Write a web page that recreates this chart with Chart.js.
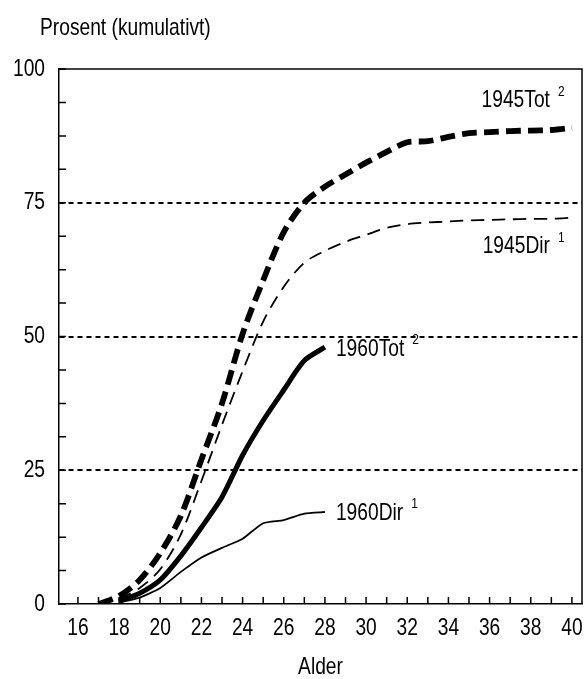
<!DOCTYPE html>
<html>
<head>
<meta charset="utf-8">
<script src="https://cdn.jsdelivr.net/npm/chart.js@4.4.1/dist/chart.umd.min.js"></script>
<style>
  html, body { margin: 0; padding: 0; background: #fff; }
  #wrap { width: 587px; height: 679px; position: relative; }
</style>
</head>
<body>
<div id="wrap"><canvas id="chart"></canvas></div>
<script>
/* ─── Data ─────────────────────────────────────── */
const ages1945 = [17, 18, 19, 20, 21, 22, 23, 24, 25, 26, 27, 28, 29, 30, 31, 32, 33, 34, 35, 36, 37, 38, 39, 40];
const tot1945  = [0, 1.5, 4.5, 9.5, 16.5, 27, 37.5, 50.5, 60.5, 69.5, 75, 78, 80.3, 82.5, 84.5, 86.3, 86.5, 87.3, 88, 88.2, 88.4, 88.5, 88.6, 89];
const dir1945  = [0, 1, 3, 6.5, 13, 23, 33.5, 43.5, 52.8, 59.3, 63.8, 66, 67.7, 69, 70.3, 71, 71.3, 71.5, 71.7, 71.8, 71.9, 72, 72, 72.2];

const ages1960 = [18, 19, 20, 21, 22, 23, 24, 25, 26, 27, 28];
const tot1960  = [0.5, 2, 4.5, 9, 14.3, 20, 27.8, 34.3, 40, 45.5, 48];
const dir1960  = [0.3, 1.2, 3, 6, 8.7, 10.5, 12.2, 15.1, 15.7, 16.9, 17.2];

const xTickLabels = [16, 18, 20, 22, 24, 26, 28, 30, 32, 34, 36, 38, 40];
const yTickLabels = [0, 25, 50, 75, 100];
const yGridLines  = [25, 50, 75];

const seriesNames = ['1945Tot', '1945Dir', '1960Tot', '1960Dir'];
const seriesNotes = ['2', '1', '2', '1'];

const yTitle = 'Prosent (kumulativt)';
const xTitle = 'Alder';

const FONT = "'Liberation Sans Narrow', 'Liberation Sans', Arial, sans-serif";
const SQUEEZE = 0.8;   // no narrow font installed: condense by hand

const pts = (xs, ys) => xs.map((x, i) => ({ x, y: ys[i] }));

/* condensed text helper */
function narrowText(ctx, text, x, y, size, align) {
  ctx.save();
  ctx.font = size + 'px ' + FONT;
  ctx.translate(x, y);
  ctx.scale(SQUEEZE, 1);
  ctx.textAlign = align;
  ctx.textBaseline = 'middle';
  ctx.fillText(text, 0, 0);
  ctx.restore();
}

function narrowWidth(ctx, text, size) {
  ctx.save();
  ctx.font = size + 'px ' + FONT;
  const w = ctx.measureText(text).width * SQUEEZE;
  ctx.restore();
  return w;
}

/* ─── Extra drawing: frame, inner ticks, texts ─── */
const decorations = {
  id: 'decorations',
  afterDraw(chart) {
    const { ctx, chartArea: a, scales: { x, y } } = chart;
    ctx.save();
    ctx.strokeStyle = '#000';
    ctx.fillStyle = '#000';
    ctx.lineWidth = 1.5;

    // top and right frame
    ctx.beginPath();
    ctx.moveTo(a.left, a.top);
    ctx.lineTo(a.right, a.top);
    ctx.lineTo(a.right, a.bottom);
    ctx.stroke();

    // inner tick marks
    ctx.beginPath();
    for (let v = 16; v <= 40; v++) {
      const px = x.getPixelForValue(v);
      ctx.moveTo(px, a.bottom);
      ctx.lineTo(px, a.bottom - 7);
    }
    y.ticks.forEach(t => {
      const py = y.getPixelForValue(t.value);
      ctx.moveTo(a.left, py);
      ctx.lineTo(a.left + 7, py);
    });
    ctx.stroke();

    // tick labels
    xTickLabels.forEach(v => narrowText(ctx, String(v), x.getPixelForValue(v), 628, 24, 'center'));
    yTickLabels.forEach(v => narrowText(ctx, String(v), 45, y.getPixelForValue(v), 24, 'right'));

    // axis titles
    narrowText(ctx, yTitle, 40, 28, 24, 'left');
    narrowText(ctx, xTitle, (a.left + a.right) / 2, 667, 24, 'center');

    // series labels next to their end points
    const label = (i, ax, ay, align) => {
      const ds = chart.data.datasets[i].data;
      const end = ds[ds.length - 1];
      const px = x.getPixelForValue(end.x) + ax;
      const py = y.getPixelForValue(end.y) + ay;
      const w = narrowWidth(ctx, seriesNames[i], 24);
      const left = align === 'right' ? px - w : px;
      narrowText(ctx, seriesNames[i], left, py, 24, 'left');
      narrowText(ctx, seriesNotes[i], left + w + 8, py - 9, 15, 'left');
    };
    label(0, -22, -27, 'right');
    label(1, -22, 29, 'right');
    label(2, 11, 2, 'left');
    label(3, 11, 1, 'left');

    ctx.restore();
  }
};

/* ─── Chart ────────────────────────────────────── */
new Chart(document.getElementById('chart'), {
  type: 'line',
  data: {
    datasets: [
      {
        label: seriesNames[0],
        data: pts(ages1945, tot1945),
        borderColor: '#000',
        borderWidth: 5.8,
        borderDash: [15, 7],
        tension: 0.3,
      },
      {
        label: seriesNames[1],
        data: pts(ages1945, dir1945),
        borderColor: '#000',
        borderWidth: 1.8,
        borderDash: [13, 8],
        tension: 0.3,
      },
      {
        label: seriesNames[2],
        data: pts(ages1960, tot1960),
        borderColor: '#000',
        borderWidth: 5,
        tension: 0.25,
      },
      {
        label: seriesNames[3],
        data: pts(ages1960, dir1960),
        borderColor: '#000',
        borderWidth: 1.8,
        tension: 0.2,
      }
    ]
  },
  options: {
    responsive: true,
    maintainAspectRatio: false,
    animation: false,
    layout: { padding: { top: 69, right: 5, left: 0, bottom: 0 } },
    elements: { point: { radius: 0 } },
    plugins: {
      legend: { display: false },
      tooltip: { enabled: false }
    },
    scales: {
      x: {
        type: 'linear',
        min: 15.08,
        max: 40.49,
        afterFit: s => { s.height = 75; },
        border: { color: '#000', width: 1.5 },
        grid: { display: false, drawTicks: false },
        ticks: { display: false, stepSize: 1 }
      },
      y: {
        min: 0,
        max: 100,
        afterFit: s => { s.width = 59; },
        border: { color: '#000', width: 1.5, dash: [5, 4] },
        grid: {
          drawTicks: false,
          lineWidth: 2,
          color: c => yGridLines.includes(c.tick && c.tick.value) ? '#000' : 'rgba(0,0,0,0)'
        },
        ticks: { display: false, stepSize: 6.25, autoSkip: false }
      }
    }
  },
  plugins: [decorations]
});
</script>
</body>
</html>
